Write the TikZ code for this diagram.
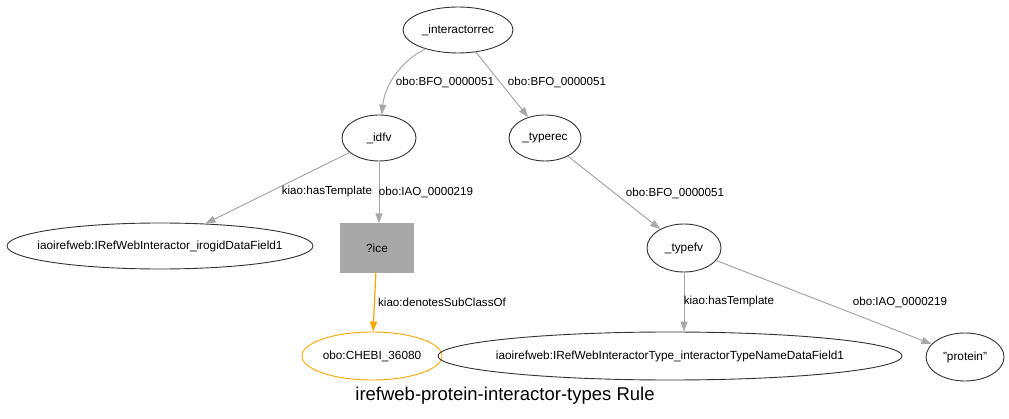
\documentclass[tikz,border=0pt]{standalone}
\usepackage{fontspec}
\setmainfont{Liberation Sans}
\usetikzlibrary{arrows.meta,shapes.geometric}
\definecolor{edgegray}{HTML}{A8A8A8}
\definecolor{nodeline}{HTML}{333333}
\definecolor{orng}{HTML}{FFA500}
\tikzset{
  x=1pt,y=-1pt,
  ell/.style={draw=nodeline,line width=0.9pt,ellipse,inner xsep=-60pt,inner ysep=0pt,font=\fontsize{11.8}{13}\selectfont},
  boxnode/.style={fill=edgegray,draw=edgegray,rectangle,inner sep=0pt,font=\fontsize{11.8}{13}\selectfont},
  edge/.style={draw=edgegray,line width=1pt,-{Triangle[length=10pt,width=7pt]}},
  oedge/.style={draw=orng,line width=1.2pt,-{Triangle[length=10pt,width=7pt]}},
  lbl/.style={font=\fontsize{11.6}{13}\selectfont,inner sep=1pt},
}
\begin{document}
\begin{tikzpicture}
\useasboundingbox[fill=white] (0,0) rectangle (1009,419);
\node[ell,minimum width=110pt,minimum height=46pt] (ir) at (458,30) {\_interactorrec};
\node[ell,minimum width=74pt,minimum height=46pt] (idfv) at (379,138) {\_idfv};
\node[ell,minimum width=72pt,minimum height=46pt] (tr) at (545,138) {\_typerec};
\node[ell,minimum width=306pt,minimum height=46pt] (irog) at (160,246) {iaoirefweb:IRefWebInteractor\_irogidDataField1};
\node[boxnode,minimum width=73pt,minimum height=49pt] (ice) at (377,248) {?ice};
\node[ell,draw=orng,minimum width=140pt,minimum height=48pt] (chebi) at (372,356) {obo:CHEBI\_36080};
\node[ell,minimum width=74pt,minimum height=48pt] (tfv) at (684,248) {\_typefv};
\node[ell,minimum width=464pt,minimum height=48pt] (tn) at (670,356) {iaoirefweb:IRefWebInteractorType\_interactorTypeNameDataField1};
\node[ell,minimum width=78pt,minimum height=48pt] (prot) at (965,357) {"protein"};
\node[font=\fontsize{18.5}{20}\selectfont] (title) at (505,396) {irefweb-protein-interactor-types Rule};

\draw[edge] (ir.210) .. controls (400,62) and (385,85) .. (idfv);
\draw[edge] (ir) -- (tr);
\draw[edge] (idfv) -- (irog);
\draw[edge] (idfv) -- (idfv |- ice.north);
\draw[oedge] (ice) -- (chebi);
\draw[edge] (tr) -- (tfv);
\draw[edge] (tfv) -- (tfv |- tn.north);
\draw[edge] (tfv) -- (prot);

\node[lbl] (l1) at (445,82) {obo:BFO\_0000051};
\node[lbl] (l2) at (557,82) {obo:BFO\_0000051};
\node[lbl] (l3) at (327,192) {kiao:hasTemplate};
\node[lbl] (l4) at (426,192) {obo:IAO\_0000219};
\node[lbl] (l5) at (442,302) {kiao:denotesSubClassOf};
\node[lbl] (l6) at (675,193) {obo:BFO\_0000051};
\node[lbl] (l7) at (729,302) {kiao:hasTemplate};
\node[lbl] (l8) at (900,302) {obo:IAO\_0000219};
\end{tikzpicture}
\end{document}
